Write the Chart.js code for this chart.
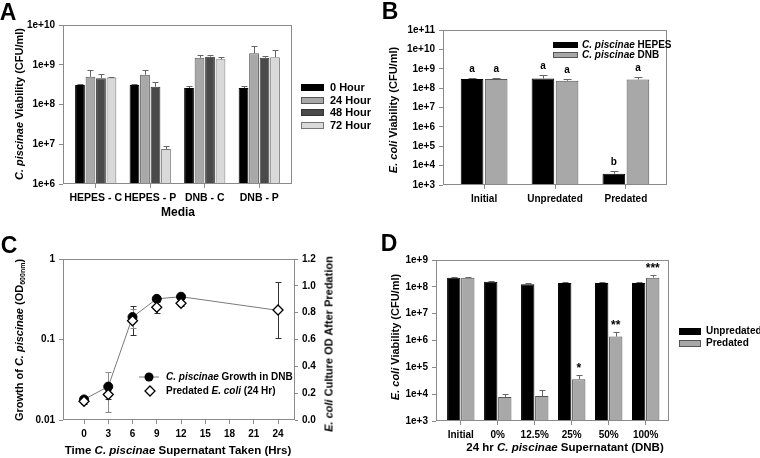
<!DOCTYPE html>
<html>
<head>
<meta charset="utf-8">
<script src="https://cdn.jsdelivr.net/npm/chart.js@4.4.1/dist/chart.umd.min.js"></script>
<style>
    html, body { margin: 0; padding: 0; background: #fff; }
    #page { position: relative; width: 760px; height: 458px; overflow: hidden;
            font-family: "Liberation Sans", Arial, sans-serif; font-weight: bold; color: #000; }
    .panel { position: absolute; }
    .lbl { position: absolute; white-space: nowrap; line-height: 1; transform: translate(-50%, -50%); }
    .rot { transform: translate(-50%, -50%) rotate(-90deg); }
    .letter { font-size: 23px; }
    .leg { position: absolute; white-space: nowrap; line-height: 1; display: flex; align-items: center; height: 12px; transform: translateY(-50%); }
    .sw { display: inline-block; box-sizing: border-box; border: 1px solid #555; }
    sub { font-size: 7px; vertical-align: -2px; }
</style>
</head>
<body>
<div id="page">
    <canvas id="chartA" class="panel" width="380" height="229" style="left:0;top:0"></canvas>
    <canvas id="chartB" class="panel" width="380" height="229" style="left:380px;top:0"></canvas>
    <canvas id="chartC" class="panel" width="380" height="229" style="left:0;top:229px"></canvas>
    <canvas id="chartD" class="panel" width="380" height="229" style="left:380px;top:229px"></canvas>

    <!-- letras de panel -->
    <div class="lbl letter" style="left:8px;top:12px">A</div>
    <div class="lbl letter" style="left:390px;top:11px">B</div>
    <div class="lbl letter" style="left:9px;top:245px">C</div>
    <div class="lbl letter" style="left:389px;top:243px">D</div>

    <!-- titulos de ejes -->
    <div class="lbl rot" style="left:19px;top:104px;font-size:11px"><i>C. piscinae</i> Viability (CFU/ml)</div>
    <div class="lbl" style="left:178px;top:212px;font-size:12px">Media</div>
    <div class="lbl rot" style="left:393px;top:110px;font-size:11px"><i>E. coli</i> Viability (CFU/ml)</div>
    <div class="lbl rot" style="left:20px;top:340px;font-size:11px">Growth of <i>C. piscinae</i> (OD<sub>600nm</sub>)</div>
    <div class="lbl rot" style="left:329px;top:344px;font-size:11px"><i>E. coli</i> Culture OD After Predation</div>
    <div class="lbl" style="left:178px;top:451px;font-size:11.5px">Time <i>C. piscinae</i> Supernatant Taken (Hrs)</div>
    <div class="lbl rot" style="left:395px;top:337px;font-size:11px"><i>E. coli</i> Viability (CFU/ml)</div>
    <div class="lbl" style="left:565px;top:448px;font-size:11.5px">24 hr <i>C. piscinae</i> Supernatant (DNB)</div>

    <div id="legends"></div>
</div>

<script>
// ---- Panel A: viabilidad de C. piscinae ----
const mediaLabels = ['HEPES - C', 'HEPES - P', 'DNB - C', 'DNB - P'];
const hour0 = [3.1e8, 3.1e8, 2.6e8, 2.6e8];
const hour0Err = [3.3e8, 3.3e8, 2.9e8, 2.9e8];
const hour24 = [5.0e8, 5.6e8, 1.5e9, 1.95e9];
const hour24Err = [7.4e8, 7.4e8, 1.8e9, 3.0e9];
const hour48 = [4.6e8, 2.8e8, 1.6e9, 1.5e9];
const hour48Err = [6.0e8, 3.6e8, 1.75e9, 1.65e9];
const hour72 = [4.8e8, 7.6e6, 1.37e9, 1.55e9];
const hour72Err = [4.9e8, 9.1e6, 1.6e9, 2.3e9];
const aTicks = [1e6, 1e7, 1e8, 1e9, 1e10];

// ---- Panel B: viabilidad de E. coli ----
const bLabels = ['Initial', 'Unpredated', 'Predated'];
const hepes = [3.0e8, 3.1e8, 3.8e3];
const hepesErr = [3.3e8, 4.6e8, 5.2e3];
const hepesMarks = ['a', 'a', 'b'];
const dnb = [3.0e8, 2.4e8, 2.8e8];
const dnbErr = [3.3e8, 3.0e8, 3.9e8];
const dnbMarks = ['a', 'a', 'a'];
const bTicks = [1e3, 1e4, 1e5, 1e6, 1e7, 1e8, 1e9, 1e10, 1e11];

// ---- Panel C: crecimiento y OD tras depredacion ----
const cHours = [0, 3, 6, 9, 12, 24];
const growthOD = [0.018, 0.026, 0.19, 0.32, 0.34, 0.23];
const growthErr = [0.001, 0.0135, 0.05, 0.03, 0.01, 0];
const predOD = [0.14, 0.19, 0.74, 0.84, 0.87, 0.82];
const predErr = [0.02, 0.03, 0.11, 0.04, 0.02, 0.21];
const cxTicks = [0, 3, 6, 9, 12, 15, 18, 21, 24];
const cyTicks = [0.01, 0.1, 1];
const cy2Ticks = [0, 0.2, 0.4, 0.6, 0.8, 1.0, 1.2];

// ---- Panel D: sobrenadante ----
const dLabels = ['Initial', '0%', '12.5%', '25%', '50%', '100%'];
const unpredated = [2.2e8, 1.55e8, 1.25e8, 1.38e8, 1.38e8, 1.4e8];
const unpredatedErr = [2.4e8, 1.65e8, 1.38e8, 1.5e8, 1.48e8, 1.5e8];
const predated = [2.2e8, 7.8e3, 8.5e3, 3.6e4, 1.4e6, 2.2e8];
const predatedErr = [2.35e8, 1.05e4, 1.45e4, 5.3e4, 2.0e6, 2.8e8];
const predatedMarks = ['', '', '', '*', '**', '***'];
const dTicks = [1e3, 1e4, 1e5, 1e6, 1e7, 1e8, 1e9];

// Colores
const FRAME = '#8a8a8a';
const BLACK = '#000000';
const GRAY = '#a8a8a8';
const DARK = '#4a4a4a';
const LIGHT = '#d9d9d9';
const BAR_EDGE = '#555555';
const LINE_GRAY = '#7a7a7a';

Chart.defaults.font.family = '"Liberation Sans", Arial, sans-serif';
Chart.defaults.font.weight = 'bold';
Chart.defaults.font.size = 10;
Chart.defaults.color = '#000';

// Marco alrededor del area del grafico
const framePlugin = {
    id: 'frame',
    afterDatasetsDraw(chart) {
        const a = chart.chartArea, ctx = chart.ctx;
        ctx.save();
        ctx.strokeStyle = FRAME;
        ctx.lineWidth = 1;
        ctx.strokeRect(Math.round(a.left) + 0.5, Math.round(a.top) + 0.5,
            Math.round(a.right - a.left) - 1, Math.round(a.bottom - a.top) - 1);
        ctx.restore();
    }
};

// Barras de error: errTop (solo superior, valor absoluto) o errSym (+/-)
function drawErrors(chart, cap) {
    const ctx = chart.ctx;
    chart.data.datasets.forEach((ds, di) => {
        if (!ds.errTop && !ds.errSym) return;
        const meta = chart.getDatasetMeta(di);
        const yScale = chart.scales[meta.yAxisID];
        ctx.save();
        ctx.strokeStyle = ds.errColor || '#555';
        ctx.lineWidth = 1;
        meta.data.forEach((el, i) => {
            const x = Math.round(el.x) + 0.5;
            ctx.beginPath();
            if (ds.errTop) {
                const yt = Math.round(yScale.getPixelForValue(ds.errTop[i])) + 0.5;
                ctx.moveTo(x, el.y); ctx.lineTo(x, yt);
                ctx.moveTo(x - cap, yt); ctx.lineTo(x + cap, yt);
            } else {
                const v = ds.data[i].y, e = ds.errSym[i];
                if (!e) return;
                const yt = Math.round(yScale.getPixelForValue(v + e)) + 0.5;
                const yb = Math.round(yScale.getPixelForValue(v - e)) + 0.5;
                ctx.moveTo(x, yb); ctx.lineTo(x, yt);
                ctx.moveTo(x - cap, yt); ctx.lineTo(x + cap, yt);
                ctx.moveTo(x - cap, yb); ctx.lineTo(x + cap, yb);
            }
            ctx.stroke();
        });
        ctx.restore();
    });
}
const errorBarPlugin = {
    id: 'errorBars',
    beforeDatasetsDraw(chart, args, opts) { if (opts.under) drawErrors(chart, opts.cap || 3); },
    afterDatasetsDraw(chart, args, opts) { if (!opts.under) drawErrors(chart, opts.cap || 3); }
};

// Letras / asteriscos sobre las barras de error
const marksPlugin = {
    id: 'marks',
    afterDatasetsDraw(chart, args, opts) {
        const ctx = chart.ctx;
        chart.data.datasets.forEach((ds, di) => {
            if (!ds.marks) return;
            const meta = chart.getDatasetMeta(di);
            const yScale = chart.scales[meta.yAxisID];
            ctx.save();
            ctx.font = 'bold ' + (opts.size || 10) + 'px "Liberation Sans", Arial, sans-serif';
            ctx.textAlign = 'center';
            ctx.textBaseline = 'alphabetic';
            ctx.fillStyle = '#000';
            meta.data.forEach((el, i) => {
                if (!ds.marks[i]) return;
                const y = yScale.getPixelForValue(ds.errTop[i]) - (opts.gap || 5);
                ctx.fillText(ds.marks[i], el.x, y);
            });
            ctx.restore();
        });
    }
};

// Ejes
function catAxis(labels, min, max, height, size) {
    return {
        type: 'linear', min: min, max: max, offset: false,
        afterBuildTicks: s => { s.ticks = labels.map((_, i) => ({ value: i })); },
        afterFit: s => { s.height = height; },
        ticks: { callback: v => labels[v], autoSkip: false, maxRotation: 0, minRotation: 0, padding: 4, font: { size: size } },
        grid: { offset: false, drawOnChartArea: false, tickLength: 4, color: FRAME },
        border: { display: false }
    };
}
function logAxis(tickVals, width, fmt) {
    return {
        type: 'logarithmic', min: tickVals[0], max: tickVals[tickVals.length - 1],
        afterBuildTicks: s => { s.ticks = tickVals.map(v => ({ value: v })); },
        afterFit: s => { s.width = width; },
        ticks: { callback: fmt, padding: 4 },
        grid: { drawOnChartArea: false, tickLength: 4, color: FRAME },
        border: { display: false }
    };
}
const expFmt = v => '1e+' + Math.round(Math.log10(v));

function xy(values) {
    return values.map((v, i) => ({ x: i, y: v }));
}
function barSet(label, values, errs, fill, edge) {
    return { label: label, data: xy(values), backgroundColor: fill, borderColor: edge,
             borderWidth: 1, errTop: errs, errColor: '#666' };
}

const baseOptions = {
    responsive: false,
    animation: false,
    devicePixelRatio: 1,
    events: []
};

// Grafico A
new Chart(document.getElementById('chartA'), {
    type: 'bar',
    data: {
        datasets: [
            barSet('0 Hour', hour0, hour0Err, BLACK, BLACK),
            barSet('24 Hour', hour24, hour24Err, GRAY, BAR_EDGE),
            barSet('48 Hour', hour48, hour48Err, DARK, '#333'),
            barSet('72 Hour', hour72, hour72Err, LIGHT, '#777')
        ]
    },
    options: Object.assign({}, baseOptions, {
        layout: { padding: { left: 0, top: 25, right: 88, bottom: 0 } },
        datasets: { bar: { categoryPercentage: 0.77, barPercentage: 0.93 } },
        scales: {
            x: catAxis(mediaLabels, -0.6, 3.6, 45, 10.5),
            y: logAxis(aTicks, 63, expFmt)
        },
        plugins: { legend: { display: false }, tooltip: { enabled: false }, errorBars: { cap: 3 } }
    }),
    plugins: [framePlugin, errorBarPlugin]
});

// Grafico B
const hepesSet = barSet('C. piscinae HEPES', hepes, hepesErr, BLACK, BLACK);
hepesSet.marks = hepesMarks;
const dnbSet = barSet('C. piscinae DNB', dnb, dnbErr, GRAY, BAR_EDGE);
dnbSet.marks = dnbMarks;
new Chart(document.getElementById('chartB'), {
    type: 'bar',
    data: { datasets: [hepesSet, dnbSet] },
    options: Object.assign({}, baseOptions, {
        layout: { padding: { left: 0, top: 30, right: 93, bottom: 0 } },
        datasets: { bar: { categoryPercentage: 0.68, barPercentage: 0.94 } },
        scales: {
            x: catAxis(bLabels, -0.58, 2.58, 44, 10),
            y: logAxis(bTicks, 63, expFmt)
        },
        plugins: { legend: { display: false }, tooltip: { enabled: false },
                   errorBars: { cap: 4 }, marks: { size: 10, gap: 6 } }
    }),
    plugins: [framePlugin, errorBarPlugin, marksPlugin]
});

// Grafico C
new Chart(document.getElementById('chartC'), {
    type: 'line',
    data: {
        datasets: [
            {
                label: 'Predated E. coli (24 Hr)',
                data: cHours.map((h, i) => ({ x: h, y: predOD[i] })),
                yAxisID: 'y2', showLine: false,
                pointStyle: 'rectRot', pointRadius: 5,
                pointBackgroundColor: '#fff', pointBorderColor: '#000', pointBorderWidth: 1.3,
                errSym: predErr, errColor: '#333', order: 0
            },
            {
                label: 'C. piscinae Growth in DNB',
                data: cHours.map((h, i) => ({ x: h, y: growthOD[i] })),
                yAxisID: 'y', borderColor: LINE_GRAY, borderWidth: 1, tension: 0,
                pointStyle: 'circle',
                pointRadius: ctx => (ctx.dataIndex === cHours.length - 1 ? 0 : 4.5),
                pointBackgroundColor: '#000', pointBorderColor: '#000', pointBorderWidth: 1,
                errSym: growthErr, errColor: '#8a8a8a', order: 1
            }
        ]
    },
    options: Object.assign({}, baseOptions, {
        layout: { padding: { left: 0, top: 30, right: 45, bottom: 0 } },
        scales: {
            x: {
                type: 'linear', min: -2.6, max: 26.1,
                afterBuildTicks: s => { s.ticks = cxTicks.map(v => ({ value: v })); },
                afterFit: s => { s.height = 38; },
                ticks: { padding: 4, maxRotation: 0 },
                grid: { drawOnChartArea: false, tickLength: 4, color: FRAME },
                border: { display: false }
            },
            y: logAxis(cyTicks, 63, v => String(v)),
            y2: {
                type: 'linear', position: 'right', min: 0, max: 1.2,
                afterBuildTicks: s => { s.ticks = cy2Ticks.map(v => ({ value: v })); },
                afterFit: s => { s.width = 40; },
                ticks: { callback: v => v.toFixed(1), padding: 4 },
                grid: { drawOnChartArea: false, tickLength: 3, color: FRAME },
                border: { display: false }
            }
        },
        plugins: { legend: { display: false }, tooltip: { enabled: false }, errorBars: { cap: 3, under: true } }
    }),
    plugins: [framePlugin, errorBarPlugin]
});

// Grafico D
const predSet = barSet('Predated', predated, predatedErr, GRAY, BAR_EDGE);
predSet.marks = predatedMarks;
new Chart(document.getElementById('chartD'), {
    type: 'bar',
    data: {
        datasets: [
            barSet('Unpredated', unpredated, unpredatedErr, BLACK, BLACK),
            predSet
        ]
    },
    options: Object.assign({}, baseOptions, {
        layout: { padding: { left: 0, top: 31, right: 91, bottom: 0 } },
        datasets: { bar: { categoryPercentage: 0.76, barPercentage: 0.95 } },
        scales: {
            x: catAxis(dLabels, -0.67, 5.63, 37, 10),
            y: logAxis(dTicks, 56, expFmt)
        },
        plugins: { legend: { display: false }, tooltip: { enabled: false },
                   errorBars: { cap: 3 }, marks: { size: 12, gap: 3 } }
    }),
    plugins: [framePlugin, errorBarPlugin, marksPlugin]
});

// Leyendas en HTML (permiten cursiva mezclada)
const legends = document.getElementById('legends');
function legendRow(x, y, swatchHtml, textHtml, size, gap) {
    const row = document.createElement('div');
    row.className = 'leg';
    row.style.left = x + 'px';
    row.style.top = y + 'px';
    row.style.fontSize = size + 'px';
    row.innerHTML = swatchHtml + '<span style="margin-left:' + gap + 'px">' + textHtml + '</span>';
    legends.appendChild(row);
}
function swatch(w, h, fill, edge) {
    return '<span class="sw" style="width:' + w + 'px;height:' + h + 'px;background:' + fill + ';border-color:' + edge + '"></span>';
}

// A
legendRow(301, 87.5, swatch(23, 7, BLACK, BLACK), '0 Hour', 11, 6);
legendRow(301, 100, swatch(23, 7, GRAY, BAR_EDGE), '24 Hour', 11, 6);
legendRow(301, 112.5, swatch(23, 7, DARK, '#333'), '48 Hour', 11, 6);
legendRow(301, 125, swatch(23, 7, LIGHT, '#777'), '72 Hour', 11, 6);
// B
legendRow(553, 45, swatch(25, 6, BLACK, BLACK), '<i>C. piscinae</i> HEPES', 10, 4);
legendRow(553, 55, swatch(25, 6, GRAY, BAR_EDGE), '<i>C. piscinae</i> DNB', 10, 4);
// C
const circleMark = '<svg width="20" height="10" style="display:block"><line x1="0" y1="5" x2="20" y2="5" stroke="' + LINE_GRAY + '" stroke-width="1"/><circle cx="10" cy="5" r="4.5" fill="#000"/></svg>';
const diamondMark = '<svg width="20" height="12" style="display:block"><polygon points="11,1 16,6 11,11 6,6" fill="#fff" stroke="#000" stroke-width="1.3"/></svg>';
legendRow(139, 376.7, circleMark, '<i>C. piscinae</i> Growth in DNB', 10, 7);
legendRow(139, 391.3, diamondMark, 'Predated <i>E. coli</i> (24 Hr)', 10, 7);
// D
legendRow(679, 331, swatch(22, 7, BLACK, BLACK), 'Unpredated', 10, 5);
legendRow(679, 343, swatch(22, 7, GRAY, BAR_EDGE), 'Predated', 10, 5);
</script>
</body>
</html>
